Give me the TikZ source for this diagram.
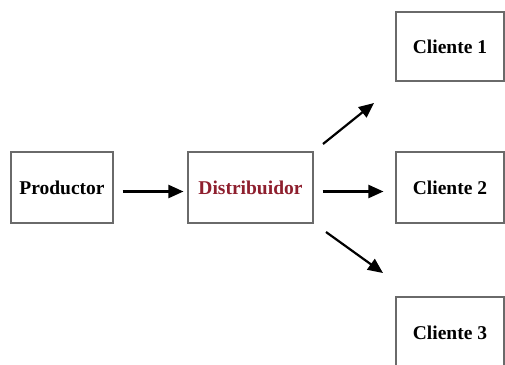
\documentclass[tikz,border=0pt]{standalone}
\usepackage{fontspec}
\setmainfont{Liberation Serif}
\usetikzlibrary{arrows.meta}
\definecolor{boxline}{HTML}{6A6A6A}
\definecolor{distred}{HTML}{8E1F2E}
\begin{document}
\begin{tikzpicture}[x=1pt,y=-1pt,
  box/.style={draw=boxline,line width=1.1pt,rectangle,inner sep=0pt,
    font=\fontsize{19.5}{22}\selectfont\bfseries},
  arr/.style={line width=2.2pt,-{Triangle[length=15pt,width=13pt]}}]
  \useasboundingbox (0,0) rectangle (505,364);
  \clip (0,0) rectangle (505,364);
  % senders
  \node[box,minimum width=102pt,minimum height=71pt] (p) at (62,187.5) {Productor};
  \node[box,minimum width=125pt,minimum height=71pt,text=distred] (d) at (250.5,187.5) {Distribuidor};
  % receivers
  \node[box,minimum width=108pt,minimum height=69pt] (c1) at (450,46.5) {Cliente 1};
  \node[box,minimum width=108pt,minimum height=71pt] (c2) at (450,187.5) {Cliente 2};
  \node[box,minimum width=108pt,minimum height=72pt] (c3) at (450,333) {Cliente 3};
  % free ends of the diagonal arrows
  \coordinate (up1) at (323,144);
  \coordinate (up2) at (374,103);
  \coordinate (dn1) at (326,232);
  \coordinate (dn2) at (383,273);
  % connectors
  \draw[arr] ([xshift=9pt,yshift=-4pt]p.east) -- ([xshift=-4pt,yshift=-4pt]d.west);
  \draw[arr] ([xshift=9pt,yshift=-4pt]d.east) -- ([xshift=-12pt,yshift=-4pt]c2.west);
  \draw[arr] (up1) -- (up2);
  \draw[arr] (dn1) -- (dn2);
\end{tikzpicture}
\end{document}
